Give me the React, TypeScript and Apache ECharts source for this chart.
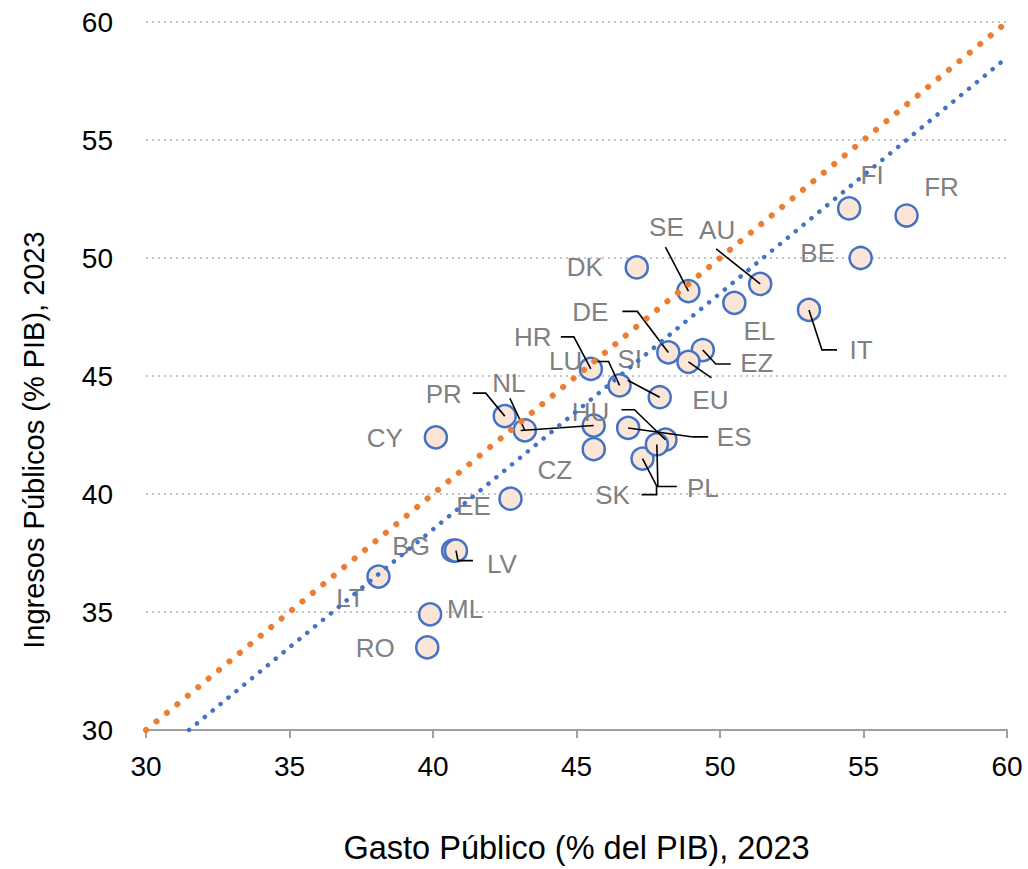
import React, { useEffect, useRef } from "react";
import * as echarts from "echarts";

// Country codes (one point has no visible label)
const countries: string[] = [
  "FR", "FI", "BE", "IT", "AU", "EL", "SE", "DK", "DE", "EZ",
  "EU", "HR", "LU", "SI", "PR", "NL", "CY", "HU", "ES", "CZ",
  "", "SK", "PL", "EE", "BG", "LV", "LT", "ML", "RO",
];
// Gasto Público (% del PIB), 2023
const gasto: number[] = [
  56.5, 54.5, 54.9, 53.1, 51.4, 50.5, 48.9, 47.1, 48.2, 49.4,
  48.9, 45.5, 46.5, 47.9, 42.5, 43.2, 40.1, 48.1, 46.8, 45.6,
  45.6, 47.3, 47.8, 42.7, 40.7, 40.8, 38.1, 39.9, 39.8,
];
// Ingresos Públicos (% PIB), 2023
const ingresos: number[] = [
  51.8, 52.1, 50.0, 47.8, 48.9, 48.1, 48.6, 49.6, 46.0, 46.1,
  45.6, 45.3, 44.6, 44.1, 43.3, 42.7, 42.4, 42.3, 42.8, 41.9,
  42.9, 41.5, 42.1, 39.8, 37.6, 37.6, 36.5, 34.9, 33.5,
];
// Reference line (ingresos = gasto) and fitted trend line end points
const lineEqual: number[][] = [[30, 30], [60, 60]];
const lineTrend: number[][] = [[31.5, 30], [60, 58.5]];
const axisTicks: number[] = [30, 35, 40, 45, 50, 55, 60];

// Label placement (pixel offsets from the point) and leader lines
type Lay = { dx: number; dy: number; leader?: number[][] };
const labelLayout: Lay[] = [
  { dx: 35, dy: -29 }, // FR
  { dx: 23, dy: -33 }, // FI
  { dx: -43, dy: -5 }, // BE
  { dx: 52, dy: 40, leader: [[0, 0], [13, 40], [28, 40]] }, // IT
  { dx: -43, dy: -54, leader: [[0, 0], [-44, -35]] }, // AU
  { dx: 25, dy: 28 }, // EL
  { dx: -22, dy: -64, leader: [[0, 0], [-23, -44]] }, // SE
  { dx: -52, dy: 0 }, // DK
  { dx: -78, dy: -40, leader: [[0, 0], [-31, -41], [-46, -41]] }, // DE
  { dx: 54, dy: 13, leader: [[0, 0], [13, 14], [28, 14]] }, // EZ
  { dx: 22, dy: 38, leader: [[0, 0], [23, 16]] }, // EU
  { dx: -58, dy: -32, leader: [[0, 0], [-17, -32], [-30, -32]] }, // HR
  { dx: -54, dy: -24, leader: [[0, 0], [-11, -24], [-26, -24]] }, // LU
  { dx: -30, dy: -38, leader: [[0, 0], [-32, -17]] }, // SI
  { dx: -61, dy: -22, leader: [[0, 0], [-19, -23], [-32, -23]] }, // PR
  { dx: -16, dy: -47, leader: [[0, 0], [-15, -32]] }, // NL
  { dx: -51, dy: 1 }, // CY
  { dx: -75, dy: -28, leader: [[0, 0], [-31, -30], [-44, -30]] }, // HU
  { dx: 106, dy: 9, leader: [[0, 0], [65, 9], [80, 9]] }, // ES
  { dx: -39, dy: 21 }, // CZ
  { dx: 0, dy: 0, leader: [[0, 0], [-73, 5]] }, // (no label)
  { dx: -30, dy: 36, leader: [[0, 0], [14, 27], [14, 36], [-1, 36]] }, // SK
  { dx: 46, dy: 44, leader: [[0, 0], [1, 42], [20, 42]] }, // PL
  { dx: -37, dy: 7 }, // EE
  { dx: -42, dy: -5 }, // BG
  { dx: 46, dy: 13, leader: [[0, 0], [2, 10], [17, 10]] }, // LV
  { dx: -28, dy: 21 }, // LT
  { dx: 35, dy: -5 }, // ML
  { dx: -52, dy: 1 }, // RO
];

const FONT = "'Liberation Sans', Arial, sans-serif";

export default function App() {
  const ref = useRef<HTMLDivElement>(null);
  useEffect(() => {
    if (!ref.current) return;
    const chart = echarts.init(ref.current, undefined, { renderer: "svg" });
    const points = gasto.map((g, i) => [g, ingresos[i]]);
    chart.setOption({
      animation: false,
      backgroundColor: "#ffffff",
      textStyle: { fontFamily: FONT },
      grid: { left: 146, right: 21, top: 22, bottom: 137, containLabel: false },
      xAxis: {
        type: "value",
        min: axisTicks[0],
        max: axisTicks[axisTicks.length - 1],
        interval: 5,
        name: "Gasto Público (% del PIB), 2023",
        nameLocation: "middle",
        nameGap: 101,
        nameTextStyle: { fontSize: 32.5, color: "#000", fontFamily: FONT },
        axisLine: { show: true, onZero: false, lineStyle: { color: "#a0a0a0", width: 2 } },
        axisTick: { show: true, length: 8, lineStyle: { color: "#a0a0a0", width: 2 } },
        axisLabel: { fontSize: 28, color: "#000", margin: 22, fontFamily: FONT },
        splitLine: { show: false },
      },
      yAxis: {
        type: "value",
        min: axisTicks[0],
        max: axisTicks[axisTicks.length - 1],
        interval: 5,
        name: "Ingresos Públicos (% PIB), 2023",
        nameLocation: "middle",
        nameGap: 98,
        nameRotate: 90,
        nameTextStyle: {
          fontSize: 29,
          color: "#000",
          fontFamily: FONT,
          padding: [0, 128, 0, 0],
        },
        axisLine: { show: false },
        axisTick: { show: false },
        axisLabel: { fontSize: 28, color: "#000", margin: 33, fontFamily: FONT },
        splitLine: { show: true, lineStyle: { color: "#c4c4c4", width: 2, type: [2, 4] } },
      },
      series: [
        {
          type: "scatter",
          data: points,
          symbol: "circle",
          symbolSize: 22,
          itemStyle: { color: "#FBE5D6", borderColor: "#4472C4", borderWidth: 2.5, opacity: 1 },
          z: 2,
        },
        {
          type: "custom",
          data: points,
          encode: { x: 0, y: 1 },
          clip: false,
          z: 3,
          renderItem: (params: any, api: any) => {
            const i = params.dataIndex;
            const c = api.coord([api.value(0), api.value(1)]);
            const lay = labelLayout[i];
            const children: any[] = [];
            if (lay.leader) {
              children.push({
                type: "polyline",
                shape: { points: lay.leader.map((p) => [c[0] + p[0], c[1] + p[1]]) },
                style: { stroke: "#000", lineWidth: 1.6, fill: "none" },
              });
            }
            if (countries[i]) {
              children.push({
                type: "text",
                x: c[0] + lay.dx,
                y: c[1] + lay.dy,
                style: {
                  text: countries[i],
                  fontSize: 26,
                  fontFamily: FONT,
                  fill: "#808080",
                  align: "center",
                  verticalAlign: "middle",
                },
              });
            }
            return { type: "group", children };
          },
        },
        {
          type: "line",
          data: lineEqual,
          symbol: "none",
          z: 4,
          lineStyle: { color: "#ED7D31", width: 6, type: [0.1, 13.4], cap: "round" },
        },
        {
          type: "line",
          data: lineTrend,
          symbol: "none",
          z: 4,
          lineStyle: { color: "#4472C4", width: 4.5, type: [0.1, 10.1], cap: "round" },
        },
      ],
    });
    return () => chart.dispose();
  }, []);
  return (
    <div
      ref={ref}
      style={{ position: "absolute", left: 0, top: 0, width: 1028, height: 869 }}
    />
  );
}
